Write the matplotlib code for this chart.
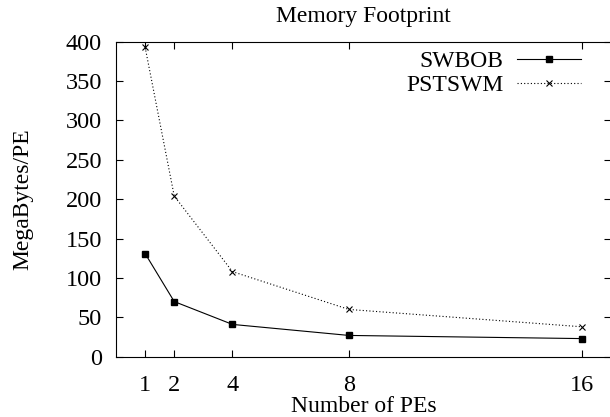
import matplotlib
matplotlib.use("Agg")
import matplotlib.pyplot as plt

pes = [1, 2, 4, 8, 16]
swbob = [131, 70, 41, 27, 23]
pstswm = [393, 204, 108, 60, 38]
yticks = [0, 50, 100, 150, 200, 250, 300, 350, 400]

plt.rcParams["font.family"] = ["Liberation Serif", "DejaVu Serif"]
plt.rcParams["font.size"] = 17

fig = plt.figure(figsize=(6.10, 4.17), dpi=100)
ax = fig.add_axes([116 / 610, 1 - 356.7 / 417, (611 - 116) / 610, (356.7 - 41.7) / 417])

ax.plot(pes, swbob, color="black", lw=0.8, marker="s", ms=4.5, label="SWBOB")
ax.plot(pes, pstswm, color="black", lw=0.8, ls=(0, (1, 2)), marker="x", ms=4.5,
        mew=0.8, label="PSTSWM")

ax.set_xlim(0, 17)
ax.set_ylim(0, 400)
ax.set_xticks(pes)
ax.set_yticks(yticks)
ax.tick_params(direction="in", top=True, right=True, length=5, width=0.8,
               labelsize=17.5)
ax.tick_params(axis="x", pad=13)
ax.tick_params(axis="y", pad=10)
for s in ax.spines.values():
    s.set_linewidth(0.8)

ax.set_title("Memory Footprint", fontsize=17, pad=14)
ax.set_xlabel("Number of PEs", fontsize=17, labelpad=0)
ax.set_ylabel("MegaBytes/PE", fontsize=17, labelpad=23)

ax.legend(loc="upper right", frameon=False, markerfirst=False, handlelength=2.7,
          handletextpad=0.6, fontsize=17, borderaxespad=0, borderpad=0.2,
          labelspacing=0.12, bbox_to_anchor=(0.949, 0.987))

fig.savefig("out.png", dpi=100)
